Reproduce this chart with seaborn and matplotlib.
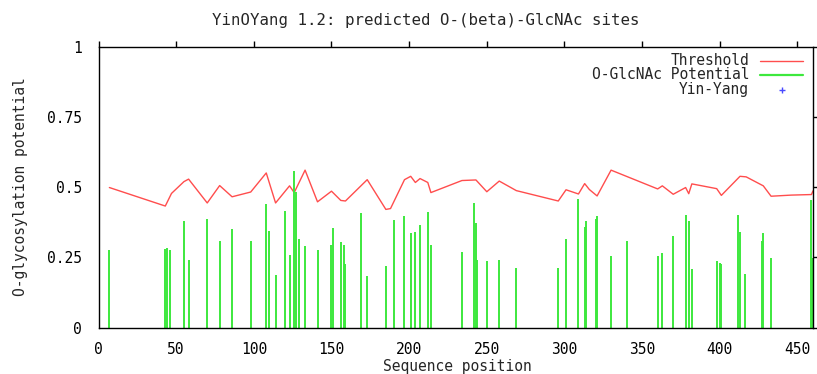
import numpy as np
import pandas as pd
import matplotlib
matplotlib.use("Agg")
import matplotlib.pyplot as plt
import seaborn as sns
from matplotlib.lines import Line2D

# ---- data ----
site_pos = [7, 43, 44, 46, 55, 58, 70, 78, 86, 98, 108, 110, 114, 120, 123, 126, 127, 129,
            133, 141, 150, 151, 156, 158, 159, 169, 173, 185, 190, 197, 201, 204, 207, 212,
            214, 234, 242, 243, 244, 250, 258, 269, 296, 301, 309, 313, 314, 320, 321, 330,
            340, 360, 363, 370, 378, 380, 382, 398, 400, 401, 412, 413, 416, 427, 428, 433,
            459, 460]
site_potential = [0.275, 0.281, 0.283, 0.275, 0.379, 0.242, 0.387, 0.308, 0.350, 0.307,
                  0.440, 0.345, 0.186, 0.417, 0.260, 0.557, 0.483, 0.317, 0.289, 0.275,
                  0.293, 0.355, 0.304, 0.293, 0.227, 0.407, 0.184, 0.221, 0.383, 0.398,
                  0.336, 0.340, 0.364, 0.412, 0.293, 0.270, 0.445, 0.374, 0.240, 0.237,
                  0.242, 0.213, 0.213, 0.317, 0.458, 0.360, 0.379, 0.386, 0.396, 0.255,
                  0.307, 0.255, 0.264, 0.327, 0.402, 0.379, 0.208, 0.236, 0.230, 0.226,
                  0.402, 0.340, 0.189, 0.307, 0.336, 0.246, 0.454, 0.246]

thr_pos = [7, 43, 47, 55, 58, 70, 78, 86, 98, 108, 114, 123, 126, 133, 141, 150, 156, 159,
           173, 185, 188, 197, 201, 204, 207, 212, 214, 234, 243, 250, 258, 269, 296, 301,
           309, 313, 316, 321, 330, 360, 363, 370, 378, 380, 382, 398, 401, 413, 417, 428,
           433, 446, 459, 460]
thr_val = [0.499, 0.433, 0.478, 0.520, 0.529, 0.444, 0.506, 0.466, 0.483, 0.551, 0.444,
           0.505, 0.481, 0.561, 0.448, 0.486, 0.453, 0.451, 0.527, 0.421, 0.424, 0.527,
           0.539, 0.517, 0.531, 0.517, 0.481, 0.524, 0.526, 0.484, 0.522, 0.488, 0.451,
           0.491, 0.476, 0.513, 0.492, 0.469, 0.561, 0.494, 0.505, 0.475, 0.499, 0.477,
           0.512, 0.495, 0.471, 0.539, 0.537, 0.505, 0.468, 0.472, 0.474, 0.487]

yinyang_pos = []
yinyang_val = []

x_ticks = [0, 50, 100, 150, 200, 250, 300, 350, 400, 450]
y_ticks = [0, 0.25, 0.5, 0.75, 1]
y_tick_labels = ["0", "0.25", "0.5", "0.75", "1"]

title = "YinOYang 1.2: predicted O-(beta)-GlcNAc sites"
xlabel = "Sequence position"
ylabel = "O-glycosylation potential"
legend_labels = ["Threshold", "O-GlcNAc Potential", "Yin-Yang"]

# ---- style ----
sns.set_style("white")
FONT = "DejaVu Sans Mono"
plt.rcParams["font.family"] = [FONT]
FS = 10.5
RED = "#ff4d4d"
GREEN = "#3de83d"
BLUE = "#4a4aff"

W, H = 817, 374
fig = plt.figure(figsize=(W / 100, H / 100), dpi=100)
ax = fig.add_axes([98.5 / W, 1 - 327.5 / H, (813 - 98.5) / W, (327.5 - 47) / H])

thr_df = pd.DataFrame({"pos": thr_pos, "val": thr_val})
sns.lineplot(data=thr_df, x="pos", y="val", ax=ax, color=RED, lw=1.0,
             estimator=None, sort=False)
ax.vlines(site_pos, 0, site_potential, color=GREEN, lw=1.4)
ax.plot(yinyang_pos, yinyang_val, "+", color=BLUE)

ax.set_xlim(0, 460)
ax.set_ylim(0, 1)
ax.set_xticks(x_ticks)
ax.set_yticks(y_ticks)
ax.set_yticklabels(y_tick_labels)
ax.set_xlabel("")
ax.set_ylabel("")
for s in ax.spines.values():
    s.set_color("black")
    s.set_linewidth(1.0)
ax.tick_params(axis="both", which="both", direction="out", length=4.3, width=1,
               colors="black", labelsize=FS, top=True, right=True,
               labeltop=False, labelright=False)
ax.tick_params(axis="y", pad=7.5)
ax.tick_params(axis="x", pad=6.5)

# legend (gnuplot style: right-aligned text, sample to the right)
def px2fig(x, y):
    return x / W, 1 - y / H

rows_y = [60.7, 74.5, 89.5]
for lab, yy in zip(legend_labels, rows_y):
    fx, fy = px2fig(749, yy)
    fig.text(fx, fy, lab, ha="right", va="center", fontsize=FS)
for color, lw, yy in [(RED, 1.0, rows_y[0]), (GREEN, 1.6, rows_y[1])]:
    x0, y0 = px2fig(760, yy)
    x1, _ = px2fig(803, yy)
    fig.add_artist(Line2D([x0, x1], [y0, y0], color=color, lw=lw,
                          transform=fig.transFigure))
mx, my = px2fig(782, rows_y[2])
fig.add_artist(Line2D([mx], [my], color=BLUE, marker="+", ls="none", markersize=5,
                      transform=fig.transFigure))

fig.text(426 / W, 1 - 20 / H, title, ha="center", va="center", fontsize=11.3)
fig.text(457 / W, 1 - 366 / H, xlabel, ha="center", va="center", fontsize=FS)
fig.text(21 / W, 1 - 187 / H, ylabel, ha="center", va="center", fontsize=FS,
         rotation=90)

fig.savefig("out.png", dpi=100)
